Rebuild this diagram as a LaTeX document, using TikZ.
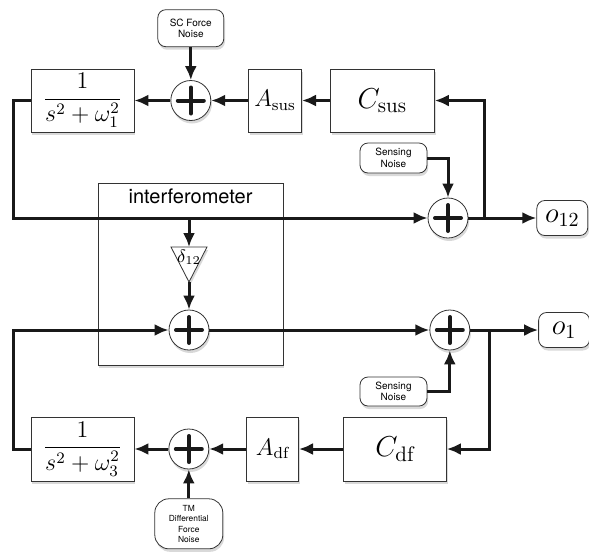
\documentclass[tikz,border=0pt]{standalone}
\usepackage{amsmath}
\usepackage{fontspec}
\setsansfont{TeX Gyre Heros}
\usetikzlibrary{positioning,shapes.geometric,shadows,arrows.meta}

\begin{document}
\begin{tikzpicture}[x=0.5pt, y=-0.5pt]
\tikzstyle{blockshadow}=[drop shadow={shadow xshift=0.6pt, shadow yshift=-1.5pt, opacity=0.3}]
\tikzstyle{block}=[rectangle, draw=black!80, fill=white, inner sep=1pt, blockshadow]
\tikzstyle{sum}=[circle, draw=black!80, fill=white, minimum size=20pt, inner sep=0pt, blockshadow,
  path picture={\draw[line width=2pt, line cap=round, black!90]
    ([xshift=-6.5pt]path picture bounding box.center) -- ([xshift=6.5pt]path picture bounding box.center)
    ([yshift=-6.5pt]path picture bounding box.center) -- ([yshift=6.5pt]path picture bounding box.center);}]
\tikzstyle{noise}=[rectangle, rounded corners=4pt, draw=black!80, fill=white, inner sep=0pt, align=center, font=\sffamily\fontsize{5}{5.8}\selectfont, blockshadow]
\tikzstyle{outbox}=[rectangle, rounded corners=4pt, draw=black!80, fill=white, minimum width=25.5pt, minimum height=17.5pt, font=\Large, blockshadow]
\tikzstyle{connect}=[-{Latex[length=7pt,width=6pt]}, line width=1.5pt, black!90]
  \useasboundingbox (0,0) rectangle (589,553);
  % interferometer
  \node[block, minimum width=92.5pt, minimum height=91pt] (ifo) at (190.5,274) {};
  \node[font=\sffamily, anchor=north, inner sep=3pt] (ifotitle) at (ifo.north) {interferometer};
  \coordinate (dtop) at (189,247);
  \coordinate (dapex) at (189,282);
  \draw[draw=black!80, fill=white, blockshadow] (171,247) -- (207,247) -- (dapex) -- cycle;
  \node[font=\fontsize{9}{10}\selectfont, inner sep=0pt] (deltalbl) at (189,257) {$\delta_{12}$};
  \node[sum] (sum3) at (189,330) {};
  % upper loop
  \node[block, minimum width=51.5pt, minimum height=31.5pt, font=\large] (tf1) at (82.5,100.5) {$\dfrac{1}{s^2+\omega_1^2}$};
  \node[sum] (sum1) [right=18pt of tf1] {};
  \node[block, minimum width=26.5pt, minimum height=31.5pt, font=\large] (asus) [right=18.5pt of sum1] {$A_{\mathrm{sus}}$};
  \node[block, minimum width=52pt, minimum height=31.5pt, font=\fontsize{15}{18}\selectfont] (csus) [right=14pt of asus] {$C_{\mathrm{sus}}$};
  \node[noise, minimum width=33pt, minimum height=18.5pt] (scnoise) [above=16.5pt of sum1] {SC Force\\Noise};
  \node[sum] (sum2) at (448,218) {};
  \node[outbox] (o12) [right=34pt of sum2] {$o_{12}$};
  \node[noise, minimum width=33.5pt, minimum height=15pt] (sens1) at (393.5,158) {Sensing\\Noise};
  \coordinate[left=8.5pt of tf1] (ltop);
  \coordinate[right=8pt of sum2] (rtop);
  % lower loop
  \node[sum] (sum4) [right=110pt of sum3] {};
  \node[outbox] (o1) [right=34pt of sum4] {$o_1$};
  \node[noise, minimum width=33.5pt, minimum height=14.5pt] (sens2) at (393.5,391.5) {Sensing\\Noise};
  \coordinate[right=9.5pt of sum4] (rbot);
  \node[block, minimum width=51.5pt, minimum height=32pt, font=\large] (tf3) at (82.5,449) {$\dfrac{1}{s^2+\omega_3^2}$};
  \node[sum] (sum5) [right=17pt of tf3] {};
  \node[block, minimum width=26pt, minimum height=32pt, font=\large] (adf) [right=18.5pt of sum5] {$A_{\mathrm{df}}$};
  \node[block, minimum width=51.5pt, minimum height=32pt, font=\fontsize{15}{18}\selectfont] (cdf) [right=22pt of adf] {$C_{\mathrm{df}}$};
  \node[noise, minimum width=34pt, minimum height=25pt, rounded corners=7pt, font=\sffamily\fontsize{4.2}{5.2}\selectfont] (tmnoise) [below=14.5pt of sum5] {TM\\Differential\\Force\\Noise};
  \coordinate[left=8.5pt of tf3] (lbot);
  \path (scnoise) edge [connect] (sum1)
        (asus) edge [connect] (sum1)
        (csus) edge [connect] (asus)
        (sum1) edge [connect] (tf1)
        (sum2) edge [connect] (o12)
        (dapex) edge [connect] (sum3)
        (sum3) edge [connect] (sum4)
        (sum4) edge [connect] (o1)
        (tmnoise) edge [connect] (sum5)
        (adf) edge [connect] (sum5)
        (cdf) edge [connect] (adf)
        (sum5) edge [connect] (tf3);
  \draw[connect] (tf1.west) -- (ltop) |- (sum2.west);
  \draw[connect] (dtop |- sum2.west) -- (dtop);
  \draw[connect] (rtop) |- (csus.east);
  \draw[connect] (sens1.east) -| (sum2.north);
  \draw[connect] (tf3.west) -- (lbot) |- (sum3.west);
  \draw[connect] (rbot) |- (cdf.east);
  \draw[connect] (sens2.east) -| (sum4.south);
\end{tikzpicture}
\end{document}
